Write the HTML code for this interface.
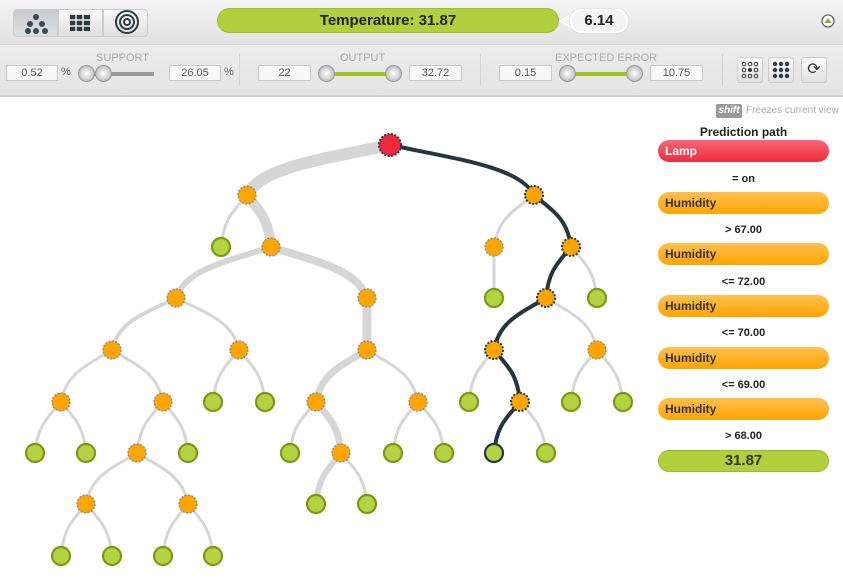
<!DOCTYPE html>
<html><head><meta charset="utf-8"><style>
*{box-sizing:border-box}
body{margin:0;width:843px;height:586px;overflow:hidden;background:#fff;font-family:"Liberation Sans",sans-serif;position:relative}
.hdr{position:absolute;left:0;top:0;width:843px;height:45px;background:linear-gradient(#f4f4f4,#e2e2e2);border-bottom:1px solid #d4d4d4}
.tb{position:absolute;left:0;top:45px;width:843px;height:52px;background:linear-gradient(#ececec,#e4e4e4);border-bottom:2px solid #d0d0d0}
.btn{position:absolute;top:9px;height:28px;background:linear-gradient(#fafafa,#e0e0e0);border:1px solid #ccc}
.temp{position:absolute;left:217px;top:8px;width:342px;height:25px;border-radius:13px;background:#b2cf3c;border:1px solid #a0bc30;text-align:center;font-size:15px;line-height:23px;color:#222;font-weight:bold}
.err{position:absolute;left:570px;top:9px;width:58px;height:24px;border-radius:11px;background:#f4f4f4;border:2px solid #fff;box-shadow:0 0 1px #aaa;text-align:center;font-weight:bold;font-size:15px;line-height:20px;color:#222}
.lab{position:absolute;top:52px;font-size:11px;color:#aaa}
.in{position:absolute;top:65px;height:16px;background:#f8f8f8;border:1px solid #c8c8c8;font-size:11px;color:#555;text-align:center;line-height:14px}
.knob{position:absolute;top:65px;width:17px;height:17px;border-radius:50%;background:radial-gradient(#fff,#ccc 60%,#999);border:1px solid #999}
.bar{position:absolute;top:72px;height:4px}
.sep{position:absolute;top:54px;width:1px;height:32px;background:#d4d4d4}
.ib{position:absolute;top:57px;width:26px;height:26px;border:1px solid #ccc;border-radius:3px;background:linear-gradient(#fafafa,#e2e2e2);font-size:16px;text-align:center;line-height:24px;color:#333}
.pill{position:absolute;left:658px;width:171px;height:22px;border-radius:11px;font-size:12px;font-weight:bold;line-height:22px;padding-left:7px}
.o{background:linear-gradient(#ffc050,#ffa500);color:#333}
.cond{position:absolute;left:658px;width:171px;text-align:center;font-size:11px;font-weight:bold;color:#222}
</style></head><body>
<div class="hdr"></div>
<div class="btn" style="left:13px;width:45px;background:linear-gradient(#c8ccd0,#dde0e2);border-radius:4px 0 0 4px"></div>
<div class="btn" style="left:58px;width:45px"></div>
<div class="btn" style="left:103px;width:45px;border-radius:0 4px 4px 0"></div>
<svg style="position:absolute;left:0;top:0" width="160" height="45">
<g fill="#3a4a50"><circle cx="36" cy="17" r="3"/><circle cx="30" cy="24" r="3"/><circle cx="42" cy="24" r="3"/><circle cx="28" cy="31" r="3"/><circle cx="36" cy="31" r="3"/><circle cx="45" cy="31" r="3"/></g>
<rect x="70" y="15" width="20" height="16" fill="#2f3a40"/><g stroke="#eee" stroke-width="1.5"><line x1="76" y1="15" x2="76" y2="31"/><line x1="83" y1="15" x2="83" y2="31"/><line x1="70" y1="20" x2="90" y2="20"/><line x1="70" y1="26" x2="90" y2="26"/></g>
<g fill="none" stroke="#2f3a40" stroke-width="2"><circle cx="127" cy="22" r="3"/><circle cx="127" cy="22" r="7"/><circle cx="127" cy="22" r="11"/></g>
</svg>
<div class="temp">Temperature: 31.87</div>
<svg style="position:absolute;left:558px;top:12px" width="16" height="18"><path d="M14 2 L2 9 L14 16Z" fill="#f4f4f4" stroke="#fff" stroke-width="1.5"/></svg>
<div class="err">6.14</div>
<svg style="position:absolute;left:820px;top:13px" width="16" height="16"><circle cx="8" cy="8" r="6" fill="#fff" stroke="#666" stroke-width="1.3"/><path d="M4.5 10 L8 5 L11.5 10Z" fill="#8fb020"/></svg>
<div class="tb"></div>
<div class="lab" style="left:96px">SUPPORT</div>
<div class="in" style="left:6px;width:52px">0.52</div><div style="position:absolute;left:61px;top:66px;font-size:11px;color:#666">%</div>
<div class="bar" style="left:85px;width:69px;background:#999"></div>
<div class="knob" style="left:78px"></div><div class="knob" style="left:95px"></div>
<div class="in" style="left:169px;width:52px">26.05</div><div style="position:absolute;left:224px;top:66px;font-size:11px;color:#666">%</div>
<div class="sep" style="left:239px"></div>
<div class="lab" style="left:340px">OUTPUT</div>
<div class="in" style="left:258px;width:53px">22</div>
<div class="bar" style="left:330px;width:70px;background:#a0c020"></div>
<div class="knob" style="left:318px"></div><div class="knob" style="left:385px"></div>
<div class="in" style="left:409px;width:53px">32.72</div>
<div class="sep" style="left:480px"></div>
<div class="lab" style="left:555px">EXPECTED ERROR</div>
<div class="in" style="left:499px;width:53px">0.15</div>
<div class="bar" style="left:570px;width:70px;background:#a0c020"></div>
<div class="knob" style="left:559px"></div><div class="knob" style="left:626px"></div>
<div class="in" style="left:650px;width:53px">10.75</div>
<div class="sep" style="left:722px"></div>
<div class="ib" style="left:737px"></div><div class="ib" style="left:768px"></div><div class="ib" style="left:801px">⟳</div>
<svg style="position:absolute;left:737px;top:57px" width="60" height="26">
<g fill="none" stroke="#333" stroke-width="1"><circle cx="7" cy="7" r="1.8"/><circle cx="13" cy="7" r="1.8"/><circle cx="19" cy="7" r="1.8"/><circle cx="7" cy="19" r="1.8"/><circle cx="13" cy="19" r="1.8"/><circle cx="19" cy="19" r="1.8"/><circle cx="7" cy="13" r="1.8"/><circle cx="19" cy="13" r="1.8"/></g><circle cx="13" cy="13" r="2" fill="#333"/>
<g fill="#2f3a40"><circle cx="38" cy="7" r="2.2"/><circle cx="44" cy="7" r="2.2"/><circle cx="50" cy="7" r="2.2"/><circle cx="38" cy="13" r="2.2"/><circle cx="44" cy="13" r="2.2"/><circle cx="50" cy="13" r="2.2"/><circle cx="38" cy="19" r="2.2"/><circle cx="44" cy="19" r="2.2"/><circle cx="50" cy="19" r="2.2"/></g></svg>

<div style="position:absolute;left:716px;top:104px;width:26px;height:14px;background:#999;color:#fff;font-size:10px;font-style:italic;font-weight:bold;text-align:center;line-height:14px;border-radius:2px">shift</div>
<div style="position:absolute;left:746px;top:105px;font-size:10px;color:#aaa">Freezes current view</div>
<div class="cond" style="top:125px;font-size:12px">Prediction path</div>
<div class="pill" style="top:140px;background:linear-gradient(#f56878,#f02a3c);color:#fff">Lamp</div>
<div class="cond" style="top:173px">= on</div>
<div class="pill o" style="top:192px">Humidity</div>
<div class="cond" style="top:224px">&gt; 67.00</div>
<div class="pill o" style="top:243px">Humidity</div>
<div class="cond" style="top:276px">&lt;= 72.00</div>
<div class="pill o" style="top:295px">Humidity</div>
<div class="cond" style="top:327px">&lt;= 70.00</div>
<div class="pill o" style="top:347px">Humidity</div>
<div class="cond" style="top:379px">&lt;= 69.00</div>
<div class="pill o" style="top:398px">Humidity</div>
<div class="cond" style="top:430px">&gt; 68.00</div>
<div class="pill" style="top:450px;background:#b2cf3c;border:1px solid #9ab830;text-align:center;padding:0;font-size:15px;line-height:20px;color:#333">31.87</div>

<svg id="t" style="position:absolute;left:0;top:0" width="650" height="586"></svg>
<script>
var N={r:[390,145,'R'],a:[247,195,'O'],b:[534,195,'O'],a1:[221,247,'G'],a2:[271,247,'O'],c:[176,298,'O'],d:[367,298,'O'],
c1:[112,350,'O'],c2:[239,350,'O'],e1:[61,402,'O'],e2:[163,402,'O'],f1:[35,453,'G'],f2:[86,453,'G'],g1:[137,453,'O'],g2:[188,453,'G'],
h1:[86,504,'O'],h2:[188,504,'O'],i1:[61,556,'G'],i2:[112,556,'G'],i3:[163,556,'G'],i4:[213,556,'G'],j1:[213,402,'G'],j2:[265,402,'G'],
d1:[367,350,'O'],k1:[316,402,'O'],k2:[418,402,'O'],l1:[290,453,'G'],l2:[341,453,'O'],m1:[316,504,'G'],m2:[367,504,'G'],n1:[393,453,'G'],n2:[444,453,'G'],
b1:[494,247,'O'],b2:[571,247,'O'],b1a:[494,298,'G'],p1:[546,298,'O'],p2:[597,298,'G'],q1:[494,350,'O'],q2:[597,350,'O'],
s1:[469,402,'G'],s2:[520,402,'O'],u1:[494,453,'G'],u2:[546,453,'G'],v1:[571,402,'G'],v2:[623,402,'G']};
var E=[['r','a',12],['r','b',0],['a','a1',3],['a','a2',10],['a2','c',6],['a2','d',8],['c','c1',4],['c','c2',3],['c1','e1',3],['c1','e2',3],
['e1','f1',3],['e1','f2',3],['e2','g1',3],['e2','g2',3],['g1','h1',3],['g1','h2',3],['h1','i1',3],['h1','i2',3],['h2','i3',3],['h2','i4',3],
['c2','j1',3],['c2','j2',3],['d','d1',9],['d1','k1',7],['d1','k2',3],['k1','l1',3],['k1','l2',7],['l2','m1',6],['l2','m2',3],['k2','n1',3],['k2','n2',3],
['b','b1',3],['b','b2',0],['b1','b1a',3],['b2','p1',0],['b2','p2',3],['p1','q1',0],['p1','q2',3],['q1','s1',3],['q1','s2',0],['s2','u1',0],['s2','u2',3],['q2','v1',3],['q2','v2',3]];
var s='',path={r:1,b:1,b2:1,p1:1,q1:1,s2:1,u1:1};
function P(p,c){var dx=c[0]-p[0],dy=c[1]-p[1];
return 'M'+p[0]+' '+p[1]+' C'+(p[0]+dx*0.5)+' '+(p[1]+dy*0.3)+' '+(c[0]-dx*0.1)+' '+(c[1]-dy*0.55)+' '+c[0]+' '+c[1];}
E.forEach(function(e){if(e[2])s+='<path d="'+P(N[e[0]],N[e[1]])+'" fill="none" stroke="#d6d6d6" stroke-width="'+e[2]+'"/>';});
E.forEach(function(e){if(!e[2])s+='<path d="'+P(N[e[0]],N[e[1]])+'" fill="none" stroke="#26363e" stroke-width="4"/>';});
for(var k in N){var n=N[k],pp=path[k];
if(n[2]=='G')s+='<circle cx="'+n[0]+'" cy="'+n[1]+'" r="9" fill="#b5d243" stroke="'+(pp?'#26363e':'#7a9a10')+'" stroke-width="2.2"/>';
else s+='<circle cx="'+n[0]+'" cy="'+n[1]+'" r="'+(n[2]=='R'?11:9)+'" fill="'+(n[2]=='R'?'#f0283c':'#ffa500')+'" stroke="'+(pp?'#26363e':'#888')+'" stroke-width="'+(pp?2:1.3)+'" stroke-dasharray="2 1.5"/>';}
document.getElementById('t').innerHTML=s;
</script>
</body></html>
